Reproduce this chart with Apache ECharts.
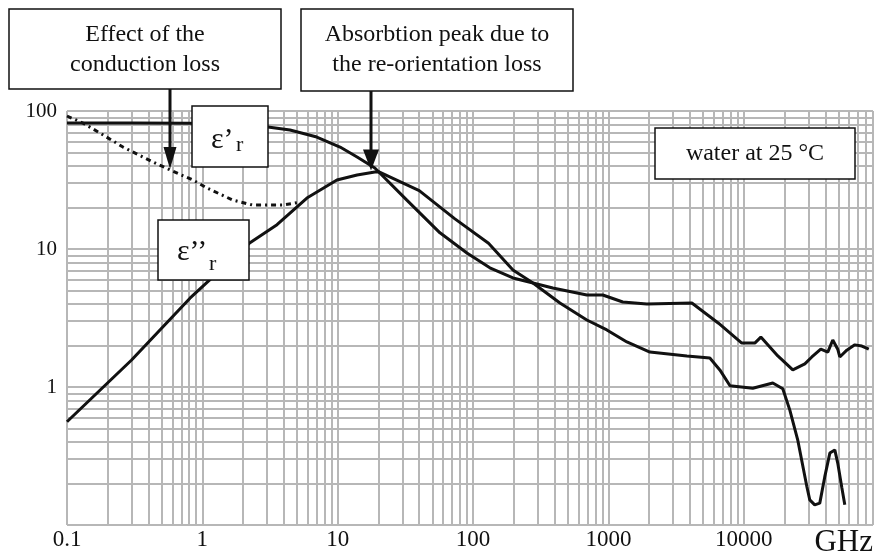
<!DOCTYPE html>
<html>
<head>
<meta charset="utf-8">
<script src="https://cdn.jsdelivr.net/npm/echarts@6/dist/echarts.min.js"></script>
<style>
html,body{margin:0;padding:0;background:#fff;}
#main{width:877px;height:555px;}
</style>
</head>
<body>
<div id="main"></div>
<script>
// ---- data (frequency in GHz, relative permittivity) ----
const epsRealFreq = [0.1, 0.3, 0.8, 1.0, 2.0, 3.05, 4.44, 7.0, 10.4, 13.9, 18.8, 32.4, 56.9, 90, 133, 197, 277, 388, 692, 908, 1276, 1922, 4131, 6500, 9660, 12050, 13360, 17830, 23000, 28230, 31800, 37030, 41720, 45400, 49400, 51170, 57640, 66070, 74430, 83800];
const epsRealVal  = [82, 82, 81.5, 81, 79, 76.6, 72.8, 64.8, 54.8, 46.4, 38.6, 22.6, 13.1, 9.35, 7.3, 6.17, 5.67, 5.22, 4.64, 4.64, 4.13, 3.99, 4.06, 2.9, 2.08, 2.08, 2.30, 1.68, 1.33, 1.47, 1.65, 1.88, 1.79, 2.19, 1.88, 1.65, 1.85, 2.02, 1.98, 1.88];

const epsImagFreq = [0.1, 0.3, 0.81, 2.22, 3.56, 5.92, 9.86, 13.9, 18.8, 20, 40, 73, 130, 197, 277, 438, 692, 973, 1368, 2023, 3795, 5610, 6650, 7900, 11640, 16370, 19400, 21870, 25060, 29200, 30700, 33400, 36400, 39600, 43200, 47000, 49400, 52900, 55700];
const epsImagVal  = [0.56, 1.57, 4.4, 11.0, 15.0, 23.4, 31.6, 34.4, 36.1, 36.3, 26.5, 16.6, 11.0, 7.04, 5.67, 4.06, 3.06, 2.59, 2.12, 1.79, 1.68, 1.62, 1.33, 1.02, 0.98, 1.07, 0.97, 0.68, 0.41, 0.19, 0.152, 0.14, 0.144, 0.223, 0.332, 0.35, 0.281, 0.188, 0.14];

const conductionFreq = [0.1, 0.131, 0.175, 0.259, 0.431, 0.577, 0.852, 1.08, 1.68, 2.36, 3.94, 5.2];
const conductionVal  = [92, 81.8, 69.3, 54.8, 42.7, 37.4, 31.6, 27.7, 22.6, 20.8, 20.8, 21.8];

const xTickLabels = ['0.1', '1', '10', '100', '1000', '10000'];   // exponents -1..4
const yTickLabels = ['', '1', '10', '100'];                       // exponents -1..2
const xRange = [0.1, 90000];
const yRange = [0.1, 100];
const gridDecadesX = [0.1, 1, 10, 100, 1000, 10000];
const gridDecadesY = [0.1, 1, 10];
const minorSteps = [2, 3, 4, 5, 6, 7, 8, 9];

// annotation anchors (data coordinates the arrows point to)
const conductionArrowAt = [0.58, 38];
const peakArrowAt = [17.7, 37];

// ---- build ----
const pairs = (xs, ys) => xs.map((x, i) => [x, ys[i]]);
const FONT = '"Liberation Serif", "Times New Roman", serif';
const GRID_COLOR = '#b7b7b7';

const minorLines = [];
gridDecadesX.forEach(d => minorSteps.forEach(m => {
  const v = +(m * d).toPrecision(6);
  if (v <= xRange[1]) minorLines.push({ xAxis: v });
}));
gridDecadesY.forEach(d => minorSteps.forEach(m => {
  const v = +(m * d).toPrecision(6);
  if (v <= yRange[1]) minorLines.push({ yAxis: v });
}));

function expLabel(v, labels, lo) {
  const e = Math.log10(v);
  const r = Math.round(e);
  if (Math.abs(e - r) > 1e-6) return '';
  const idx = r - lo;
  return (idx >= 0 && idx < labels.length) ? labels[idx] : '';
}

const chart = echarts.init(document.getElementById('main'), null, { renderer: 'canvas' });
const curveStyle = { color: '#111', width: 3 };

chart.setOption({
  backgroundColor: '#fff',
  animation: false,
  grid: { left: 67, right: 4, top: 111, bottom: 30 },
  xAxis: {
    type: 'log', logBase: 10, min: xRange[0], max: xRange[1],
    axisLine: { show: false }, axisTick: { show: false },
    splitLine: { show: true, showMinLine: true, showMaxLine: true, lineStyle: { color: GRID_COLOR, width: 2 } },
    axisLabel: {
      fontFamily: FONT, fontSize: 23, color: '#111', margin: 3,
      formatter: v => expLabel(v, xTickLabels, -1)
    }
  },
  yAxis: {
    type: 'log', logBase: 10, min: yRange[0], max: yRange[1],
    axisLine: { show: false }, axisTick: { show: false },
    splitLine: { show: true, showMinLine: true, showMaxLine: true, lineStyle: { color: GRID_COLOR, width: 2 } },
    axisLabel: {
      fontFamily: FONT, fontSize: 21, color: '#111', margin: 10, padding: [0, 0, 8, 0],
      formatter: v => expLabel(v, yTickLabels, -1)
    }
  },
  series: [
    {
      name: 'grid', type: 'line', data: [], z: 1, silent: true,
      markLine: {
        z: 1, silent: true, symbol: ['none', 'none'], animation: false,
        label: { show: false }, emphasis: { disabled: true },
        lineStyle: { color: GRID_COLOR, width: 2, type: 'solid' },
        data: minorLines
      }
    },
    {
      name: "ε'r", type: 'line', data: pairs(epsRealFreq, epsRealVal),
      symbol: 'none', showSymbol: false, z: 10, lineStyle: curveStyle
    },
    {
      name: "ε''r", type: 'line', data: pairs(epsImagFreq, epsImagVal),
      symbol: 'none', showSymbol: false, z: 10, lineStyle: curveStyle
    },
    {
      name: 'conduction', type: 'line', data: pairs(conductionFreq, conductionVal),
      symbol: 'none', showSymbol: false, z: 9,
      lineStyle: { color: '#111', width: 3, type: [5, 4, 2, 4] }
    }
  ]
});

// ---- annotations ----
const pc = chart.convertToPixel({ gridIndex: 0 }, conductionArrowAt);
const pp = chart.convertToPixel({ gridIndex: 0 }, peakArrowAt);

function box(x, y, w, h) {
  return { type: 'rect', z: 100, shape: { x, y, width: w, height: h },
           style: { fill: '#fff', stroke: '#111', lineWidth: 1.5 } };
}
function txt(x, y, text, size, align, extra) {
  return Object.assign({ type: 'text', z: 101, x, y,
    style: { text, fontFamily: FONT, fontSize: size, fill: '#111',
             align: align || 'center', verticalAlign: 'middle', lineHeight: 30 } }, extra || {});
}
function arrow(x, y0, tip, headW, headH) {
  return [
    { type: 'line', z: 102, shape: { x1: x, y1: y0, x2: x, y2: tip[1] - headH + 2 },
      style: { stroke: '#111', lineWidth: 3 } },
    { type: 'polygon', z: 102,
      shape: { points: [[x - headW / 2, tip[1] - headH], [x + headW / 2, tip[1] - headH], [x, tip[1]]] },
      style: { fill: '#111' } }
  ];
}

const g = [];
g.push(box(9, 9, 272, 80));
g.push(txt(145, 50, 'Effect of the\nconduction loss', 24));
g.push(box(301, 9, 272, 82));
g.push(txt(437, 50, 'Absorbtion peak due to\nthe re-orientation loss', 24));
g.push(...arrow(Math.round(pc[0]), 89, pc, 13, 22));
g.push(...arrow(Math.round(pp[0]), 91, pp, 16, 21));

g.push(box(192, 106, 76, 61));
g.push(txt(211, 150 - 10, 'ε’', 30, 'left'));
g.push(txt(236, 152 - 7, 'r', 22, 'left'));

g.push(box(158, 220, 91, 60));
g.push(txt(177, 262 - 10, 'ε’’', 30, 'left'));
g.push(txt(209, 271 - 7, 'r', 22, 'left'));

g.push(box(655, 128, 200, 51));
g.push(txt(755, 154, 'water at 25 °C', 24));

g.push(txt(873, 543, 'GHz', 31, 'right'));

chart.setOption({ graphic: { elements: g } });
</script>
</body>
</html>
